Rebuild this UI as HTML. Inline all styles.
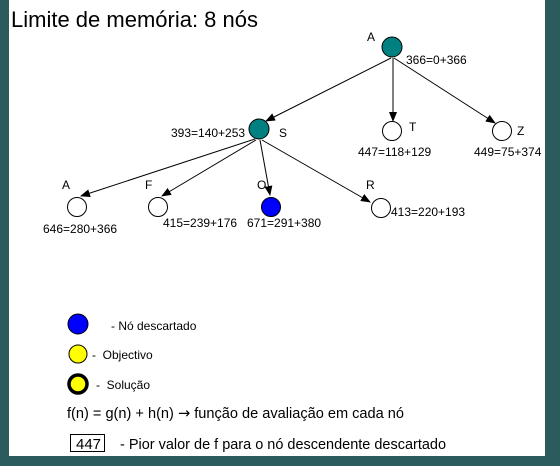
<!DOCTYPE html>
<html><head><style>
body{margin:0;width:560px;height:466px;background:#2b5b5d;overflow:hidden;font-family:"Liberation Sans",sans-serif}
#p{position:absolute;left:9px;top:0;width:536px;height:456px;background:#fff}
svg{position:absolute;left:0;top:0}
</style></head><body>
<div id="p"></div>
<svg width="560" height="466" font-family="Liberation Sans, sans-serif">
<defs><marker id="a" markerWidth="10" markerHeight="8" refX="9" refY="4" orient="auto" markerUnits="userSpaceOnUse"><path d="M0,0L10,4L0,8z" fill="#000"/></marker></defs>
<text x="11" y="27" font-size="22">Limite de memória: 8 nós</text>
<g stroke="#000" stroke-width="1" marker-end="url(#a)">
<line x1="391" y1="58" x2="266" y2="121"/>
<line x1="393" y1="58" x2="393" y2="121"/>
<line x1="394" y1="58" x2="495" y2="123"/>
<line x1="255" y1="139" x2="81" y2="196"/>
<line x1="256" y1="140" x2="162" y2="196"/>
<line x1="260" y1="140" x2="270" y2="195"/>
<line x1="262" y1="140" x2="370" y2="202"/>
</g>
<g stroke="#000" stroke-width="1">
<circle cx="392" cy="47" r="10" fill="#008080"/>
<circle cx="259" cy="129" r="10" fill="#008080"/>
<circle cx="392" cy="131" r="9.5" fill="#fff"/>
<circle cx="502" cy="131" r="9.5" fill="#fff"/>
<circle cx="77" cy="207" r="9.5" fill="#fff"/>
<circle cx="158" cy="207" r="9.5" fill="#fff"/>
<circle cx="271" cy="207" r="9.5" fill="#00f"/>
<circle cx="381" cy="208" r="9.5" fill="#fff"/>
<circle cx="78" cy="324" r="10" fill="#00f"/>
<circle cx="78" cy="354" r="9" fill="#ff0"/>
<circle cx="78" cy="384" r="9" fill="#ff0" stroke-width="3.5"/>
</g>
<g font-size="12">
<text x="367" y="41">A</text>
<text x="406" y="64">366=0+366</text>
<text x="171" y="137">393=140+253</text>
<text x="279" y="137">S</text>
<text x="409" y="131">T</text>
<text x="358" y="156">447=118+129</text>
<text x="517" y="135">Z</text>
<text x="474" y="156">449=75+374</text>
<text x="62" y="189">A</text>
<text x="43" y="233">646=280+366</text>
<text x="145" y="189">F</text>
<text x="163" y="227">415=239+176</text>
<text x="257" y="189">O</text>
<text x="247" y="227">671=291+380</text>
<text x="366" y="189">R</text>
<text x="391" y="216">413=220+193</text>
<text x="111" y="330">- Nó descartado</text>
<text x="92" y="359" xml:space="preserve">-  Objectivo</text>
<text x="96" y="389" xml:space="preserve">-  Solução</text>
</g>
<text x="67" y="418" font-size="15" textLength="337" lengthAdjust="spacingAndGlyphs">f(n) = g(n) + h(n) <tspan font-family="DejaVu Sans" font-size="15">→</tspan> função de avaliação em cada nó</text>
<rect x="70.5" y="434.5" width="34" height="17" fill="#fff" stroke="#000"/>
<text x="76" y="449" font-size="15">447</text>
<text x="120" y="449" font-size="15" textLength="326" lengthAdjust="spacingAndGlyphs">- Pior valor de f para o nó descendente descartado</text>
</svg>
</body></html>
